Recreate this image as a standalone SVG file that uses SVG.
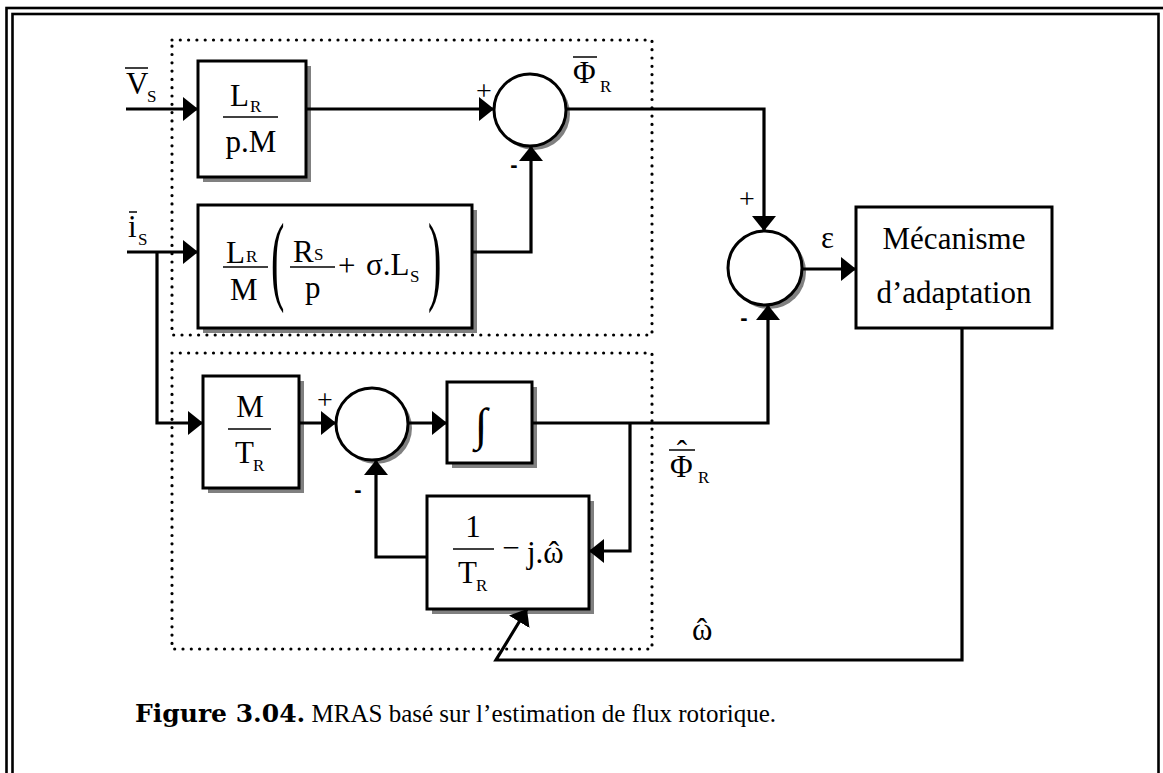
<svg xmlns="http://www.w3.org/2000/svg" width="1163" height="773" viewBox="0 0 1163 773">
<defs>
<style>
.t{font-family:"Liberation Serif","Times New Roman",serif;font-size:31px;fill:#000}
.s{font-family:"Liberation Serif","Times New Roman",serif;font-size:17px;fill:#000}
.p{font-family:"Liberation Serif","Times New Roman",serif;font-size:28px;fill:#000;text-anchor:middle}
.m{font-family:"Liberation Sans",Arial,sans-serif;font-weight:bold;font-size:22px;fill:#000;text-anchor:middle}
.b{fill:#fff;stroke:#000;stroke-width:3}
.sh{fill:#808080;stroke:none}
.c{fill:none;stroke:#000;stroke-width:3.2;marker-end:url(#ah)}
.dot{fill:none;stroke:#000;stroke-width:3.2;stroke-dasharray:0 8.3;stroke-linecap:round}
.bar{stroke:#000;stroke-width:1.5}
.fr{stroke:#000;stroke-width:1.3}
.frame{fill:none;stroke:#000;stroke-width:2.6}
</style>
<marker id="ah" viewBox="0 0 15 24" refX="15" refY="12" markerWidth="15" markerHeight="24" markerUnits="userSpaceOnUse" orient="auto">
<path d="M0,0 L15,12 L0,24 z" fill="#000"/>
</marker>
</defs>
<rect x="0" y="0" width="1163" height="773" fill="#fff"/>
<g id="frame">
<rect class="frame" x="6.5" y="8" width="1170" height="800"/>
<rect class="frame" x="12.5" y="14" width="1146" height="800"/>
</g>
<g id="groups">
<rect class="dot" x="172" y="40" width="480" height="295"/>
<rect class="dot" x="172" y="353" width="480" height="296"/>
</g>
<g id="b1">
<rect class="sh" x="203" y="66" width="108" height="116"/>
<rect class="b" x="198" y="61" width="108" height="116"/>
<text class="t" x="230" y="106">L</text><text class="s" x="250" y="112">R</text>
<line class="fr" x1="223" y1="117" x2="278" y2="117"/>
<text class="t" x="251" y="152" text-anchor="middle">p.M</text>
</g>
<g id="b2">
<rect class="sh" x="203" y="210" width="274" height="123"/>
<rect class="b" x="198" y="205" width="274" height="123"/>
<text class="t" x="226" y="263">L</text><text class="s" x="246" y="262">R</text>
<line class="fr" x1="223" y1="267" x2="268" y2="267"/>
<text class="t" x="230" y="300">M</text>
<text class="t" transform="translate(271,292) scale(1.3,3.2)">(</text>
<text class="t" x="293" y="262">R</text><text class="s" x="314" y="260">S</text>
<line class="fr" x1="290" y1="267" x2="335" y2="267"/>
<text class="t" x="305" y="298">p</text>
<text class="t" x="338" y="276">+</text>
<text class="t" x="366" y="275">σ.L</text><text class="s" x="410" y="282">S</text>
<text class="t" transform="translate(428,292) scale(1.3,3.2)">)</text>
</g>
<g id="sum1">
<circle class="sh" cx="534" cy="114" r="36"/>
<circle class="b" cx="530" cy="110" r="36"/>
</g>
<g id="sum2">
<circle class="sh" cx="769" cy="272" r="37"/>
<circle class="b" cx="765" cy="268" r="37"/>
</g>
<g id="mec">
<rect class="b" x="856" y="207" width="196" height="121"/>
<text class="t" x="954" y="249" text-anchor="middle">Mécanisme</text>
<text class="t" x="954" y="303" text-anchor="middle">d’adaptation</text>
</g>
<g id="b3">
<rect class="sh" x="208" y="381" width="96" height="112"/>
<rect class="b" x="203" y="376" width="96" height="112"/>
<text class="t" x="250" y="417" text-anchor="middle">M</text>
<line class="fr" x1="228" y1="429" x2="271" y2="429"/>
<text class="t" x="235" y="463">T</text><text class="s" x="253" y="471">R</text>
</g>
<g id="sum3">
<circle class="sh" cx="376" cy="428" r="36"/>
<circle class="b" cx="372" cy="424" r="36"/>
</g>
<g id="int">
<rect class="sh" x="452" y="387" width="85" height="81"/>
<rect class="b" x="447" y="382" width="85" height="81"/>
<text class="t" x="481" y="440" text-anchor="middle" style="font-size:46px">∫</text>
</g>
<g id="b4">
<rect class="sh" x="432" y="501" width="162" height="113"/>
<rect class="b" x="427" y="496" width="162" height="113"/>
<text class="t" x="473" y="537" text-anchor="middle">1</text>
<line class="fr" x1="453" y1="549" x2="494" y2="549"/>
<text class="t" x="458" y="583">T</text><text class="s" x="476" y="591">R</text>
<text class="t" x="511" y="558" text-anchor="middle">−</text>
<text class="t"><tspan x="527" y="563">j.ω</tspan><tspan x="554" y="563" text-anchor="middle">ˆ</tspan></text>
</g>
<g id="connectors">
<path class="c" d="M126,109 H198"/>
<path class="c" d="M306,109 H494"/>
<path class="c" d="M127,252 H198"/>
<path class="c" d="M157,252 V423 H203"/>
<path class="c" d="M472,252 H531 V146"/>
<path class="c" d="M566,109 H764 V231"/>
<path class="c" d="M802,269 H856"/>
<path class="c" d="M299,423 H336"/>
<path class="c" d="M408,423 H447"/>
<path class="c" d="M532,423 H768 V305"/>
<path class="c" d="M630,423 V551 H589"/>
<path class="c" d="M427,557 H376 V460"/>
<path class="c" d="M962,328 V660 H496 L527,609"/>
</g>
<g id="labels">
<text class="t" x="126" y="94">V</text><line class="bar" x1="125" y1="68" x2="148" y2="68"/><text class="s" x="147" y="102">S</text>
<text class="t" x="128" y="237">i</text><line class="bar" x1="129" y1="212" x2="137" y2="212"/><text class="s" x="138" y="245">S</text>
<text class="t" x="573" y="83">Φ</text><line class="bar" x1="573" y1="57" x2="597" y2="57"/><text class="s" x="600" y="92">R</text>
<text class="t"><tspan x="670" y="477">Φ</tspan><tspan x="682" y="462" text-anchor="middle">ˆ</tspan></text><line class="bar" x1="669" y1="450" x2="695" y2="450"/><text class="s" x="698" y="483">R</text>
<text class="t"><tspan x="692" y="640">ω</tspan><tspan x="702" y="640" text-anchor="middle">ˆ</tspan></text>
<text class="t" x="821" y="248">ε</text>
<text class="p" x="484" y="100">+</text>
<text class="p" x="747" y="208">+</text>
<text class="p" x="325" y="409">+</text>
<text class="m" x="514" y="172">-</text>
<text class="m" x="744" y="325">-</text>
<text class="m" x="358" y="497">-</text>
</g>
<g id="caption">
<text x="135" y="722"><tspan style="font-family:'DejaVu Serif',serif;font-weight:bold;font-size:25px">Figure 3.04.</tspan><tspan style="font-family:'Liberation Serif',serif;font-size:25px"> MRAS basé sur l’estimation de flux rotorique.</tspan></text>
</g>
</svg>
